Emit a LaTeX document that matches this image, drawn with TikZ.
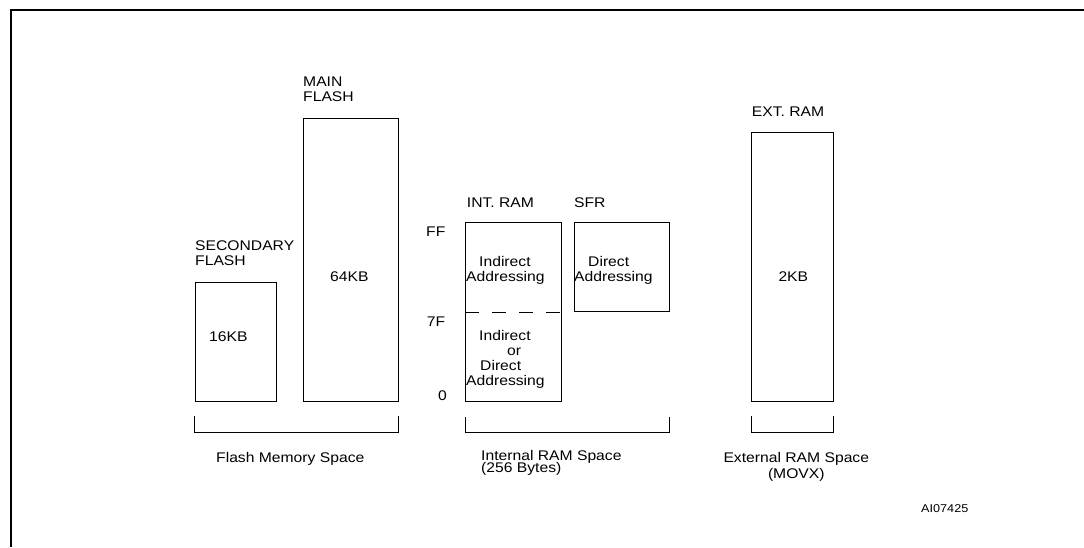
\documentclass[tikz,border=0pt]{standalone}
\usepackage{fontspec}
\setmainfont{Liberation Sans}[FakeStretch=1.12]
\usetikzlibrary{positioning}

\tikzset{
  membox/.style={draw, line width=0.9pt, inner sep=0pt, anchor=north west},
  lbl/.style={font=\fontsize{14}{15}\selectfont, inner sep=0pt, align=left},
  brkt/.style={line width=0.8pt},
}

\begin{document}
\begin{tikzpicture}[x=1pt, y=-1pt]
    \useasboundingbox (0,0) rectangle (1084,547);
    % Rahmen
    \draw[line width=2pt] (11,547) -- (11,9.5) -- (1084,9.5);

    % Flash
    \node[membox, minimum width=81, minimum height=119] (sec) at (194.5,282) {};
    \node[membox, minimum width=94.7, minimum height=283] (main) at (303,118) {};
    \node[lbl, anchor=north west] (secname) at (195,240.7) {SECONDARY\\FLASH};
    \node[lbl, anchor=north west] (mainname) at (303,76.5) {MAIN\\FLASH};
    \node[lbl, anchor=base west] (secsize) at (209,341) {16KB};
    \node[lbl, anchor=base west] (mainsize) at (330,281) {64KB};

    % interner RAM
    \node[membox, minimum width=95.4, minimum height=179] (iram) at (465.3,222) {};
    \node[membox, minimum width=95, minimum height=89] (sfr) at (573.7,222) {};
    \draw[line width=0.9pt, dash pattern=on 14pt off 13pt] (iram.west) -- ([xshift=0.5pt]iram.east);
    \node[lbl, anchor=base west] (iramname) at (466.7,207) {INT. RAM};
    \node[lbl, anchor=base west] (sfrname) at (574,207) {SFR};
    \node[lbl, anchor=base west] (addrff) at (426,236.5) {FF};
    \node[lbl, anchor=base west] (addr7f) at (426.7,326.5) {7F};
    \node[lbl, anchor=base west] (addr0) at (438,400) {0};
    \node[lbl, anchor=north west] (iramhi) at (466,256)
        {\hspace*{13pt}Indirect\\Addressing};
    \node[lbl, anchor=north west] (iramlo) at (466,330)
        {\hspace*{13pt}Indirect\\\hspace*{41pt}or\\\hspace*{14pt}Direct\\Addressing};
    \node[lbl, anchor=north west] (sfrtxt) at (574,256)
        {\hspace*{14pt}Direct\\Addressing};

    % externer RAM
    \node[membox, minimum width=81.4, minimum height=268.7] (xram) at (751.3,132.3) {};
    \node[lbl, anchor=base west] (xramname) at (751.7,116.7) {EXT. RAM};
    \node[lbl, anchor=base west] (xramsize) at (778.3,281) {2KB};

    % Klammern
    \draw[brkt] ([yshift=-14pt]sec.south west) -- ([yshift=-30pt]sec.south west)
        -- ([yshift=-30pt]main.south east) -- ([yshift=-14pt]main.south east);
    \draw[brkt] ([yshift=-15.5pt]iram.south west) -- ([yshift=-30pt]iram.south west)
        -- ([yshift=-30pt]sfr.south east |- iram.south) -- ([yshift=-15.5pt]sfr.south east |- iram.south);
    \draw[brkt] ([yshift=-14pt]xram.south west) -- ([yshift=-30pt]xram.south west)
        -- ([yshift=-30pt]xram.south east) -- ([yshift=-14pt]xram.south east);

    % Beschriftung
    \node[lbl, anchor=base west] (flashsp) at (216,462.7) {Flash Memory Space};
    \node[lbl, anchor=north west] (iramsp) at (481,450) {Internal RAM Space\\[-2.5pt](256 Bytes)};
    \node[lbl, align=center, anchor=north] (xramsp) at (796.3,451.7) {External RAM Space\\[1pt](MOVX)};
    \node[lbl, font=\fontsize{11.3}{13}\selectfont, anchor=base west] (figid) at (921,512.3) {AI07425};
\end{tikzpicture}
\end{document}
